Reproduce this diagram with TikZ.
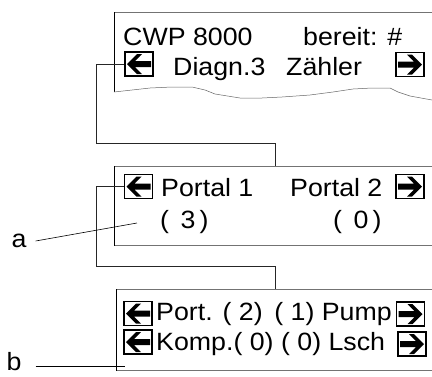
\documentclass[tikz,border=0pt]{standalone}
\usepackage{fontspec}
\setmainfont{Liberation Sans}[FakeStretch=1.07]
\newcommand{\lcdfont}{\fontsize{25}{30}\selectfont}
\begin{document}
\begin{tikzpicture}[
  x=1pt, y=-1pt,
  lcd/.style={anchor=base west, inner sep=0pt, font=\lcdfont},
  tag/.style={font=\lcdfont, inner sep=0pt},
  panel/.style={draw=black!55, line width=0.6pt, anchor=north west, minimum width=330pt},
  edgeline/.style={draw=black, line width=1pt},
  keybox/.style={draw=black, line width=1.1pt, inner sep=0pt, minimum width=28pt, minimum height=24pt},
  keyleft/.style={keybox, path picture={\fill[shift={(path picture bounding box.center)}]
      (-12,0) -- (-2,-10) -- (3,-10) -- (-4,-3) -- (12,-3) -- (12,3) -- (-4,3) -- (3,10) -- (-2,10) -- cycle;}},
  keyright/.style={keybox, path picture={\fill[shift={(path picture bounding box.center)}]
      (12,0) -- (2,-10) -- (-3,-10) -- (4,-3) -- (-12,-3) -- (-12,3) -- (4,3) -- (-3,10) -- (2,10) -- cycle;}},
  wire/.style={draw=black!85, line width=0.7pt},
  leader/.style={draw=black, line width=0.6pt}
]
  \useasboundingbox (0,0) rectangle (432,376);
  \clip (0,0) rectangle (432,376);

  % Pantalla superior, con el borde inferior roto
  \draw[draw=black!55, line width=0.6pt] (432,12) -- (114,12);
  \draw[edgeline] (114,12) -- (114,92);
  \draw[black!60, line width=0.5pt] (114,92) -- (132,90) -- (150,88) -- (172,87) -- (192,87) -- (205,90)
    -- (215,94) -- (240,98) -- (262,98) -- (282,97) -- (310,95) -- (333,92) -- (353,89) -- (372,88)
    -- (390,88) -- (398,92) -- (410,96) -- (432,100);
  \node[lcd] (cwp) at (123,45) {CWP 8000};
  \node[lcd] (ready) at (303,45) {bereit: \#};
  \node[keyleft] (back1) at (139,64) {};
  \node[lcd] (diag) at (173,75) {Diagn.3};
  \node[lcd] (count) at (286,75) {Zähler};
  \node[keyright] (next1) at (410,64.5) {};

  % Pantalla de los portales
  \node[panel, minimum height=79pt] (panel2) at (114,166) {};
  \draw[edgeline] (panel2.north west) -- (panel2.south west);
  \node[keyleft] (back2) at (138.5,186.5) {};
  \node[lcd] (portA) at (161,196) {Portal 1};
  \node[lcd] (portB) at (290,196) {Portal 2};
  \node[keyright] (next2) at (410,186.5) {};
  \node[lcd] (cntA) at (160,228) {(\, 3\,)};
  \node[lcd] (cntB) at (333,228) {(\, 0\,)};

  % Pantalla de detalle
  \node[panel, minimum height=81pt] (panel3) at (116,289) {};
  \draw[edgeline] (panel3.north west) -- (panel3.south west);
  \node[keyleft] (back3) at (138,313.5) {};
  \node[lcd] (rowA) at (156,320) {Port. ( 2)\, ( 1) Pump};
  \node[keyright] (next3) at (410.5,314) {};
  \node[keyleft] (back4) at (138,342) {};
  \node[lcd] (rowB) at (156,350) {Komp.( 0) ( 0) Lsch};
  \node[keyright] (next4) at (412,344) {};

  % Conexiones entre pantallas
  \coordinate (bend1) at (96,143);
  \coordinate (tap2) at (275,166);
  \draw[wire] (back1.west) -| (bend1) -| (tap2);
  \coordinate (bend2) at (96,266);
  \coordinate (tap3) at (275,289);
  \draw[wire] (back2.west) -| (bend2) -| (tap3);

  % Referencias a y b
  \node[tag] (la) at (19,241) {a};
  \coordinate (pa) at (137,223);
  \draw[leader] ([xshift=9pt]la.east) -- (pa);
  \node[tag] (lb) at (14,362) {b};
  \coordinate (pb) at (125,366);
  \draw[leader] ([xshift=14pt, yshift=-4pt]lb.east) -- (pb);
\end{tikzpicture}
\end{document}
